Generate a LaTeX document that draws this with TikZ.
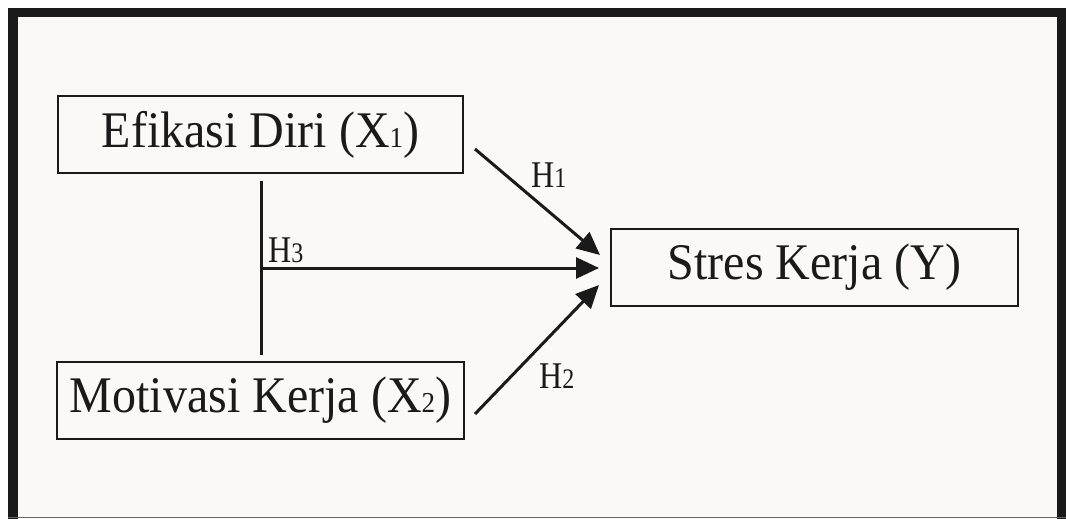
\documentclass[tikz,border=0pt]{standalone}
\usepackage{fontspec}
\usepackage{graphicx}
\setmainfont{Liberation Serif}
\usetikzlibrary{arrows.meta}
\definecolor{ink}{RGB}{26,26,26}
\definecolor{paper}{RGB}{250,249,247}
\newcommand{\lowdig}[1]{{\fontsize{27}{27}\selectfont #1}}
\newcommand{\hdig}[1]{{\fontsize{24}{24}\selectfont #1}}
\newcommand{\tallbox}[1]{\scalebox{1}[1.07]{#1}}
\newcommand{\tallh}[1]{\scalebox{1}[1.18]{#1}}
\tikzset{
  varbox/.style={draw=ink, line width=2pt, inner sep=0pt, text=ink,
    minimum height=77pt, font=\fontsize{48}{48}\selectfont},
  hlabel/.style={anchor=base west, inner sep=0pt, text=ink, font=\fontsize{32}{32}\selectfont},
  link/.style={draw=ink, line width=3pt},
  arrowlink/.style={link, -{Triangle[length=23pt,width=21pt]}}
}
\begin{document}
\begin{tikzpicture}[x=1pt,y=-1pt]
\useasboundingbox (0,0) rectangle (1066,519);
% frame
\fill[white] (0,0) rectangle (1066,519);
\fill[paper] (8,8) rectangle (1066,519);
\fill[ink] (8,8) rectangle (1066,17.5);
\fill[ink] (8,8) rectangle (17.5,519);
\fill[ink] (1057,8) rectangle (1066,519);
\draw[gray!80!black, line width=1.5pt] (8,517.5) -- (1066,517.5);
% boxes
\node[varbox, minimum width=405pt] (e) at (260.5,134.5) {\tallbox{Efikasi Diri (X\lowdig{1})}};
\node[varbox, minimum width=407pt] (m) at (260.5,400.5) {\tallbox{Motivasi Kerja (X\lowdig{2})}};
\node[varbox, minimum width=407pt] (s) at (814.5,267.5) {\tallbox{Stres Kerja (Y)}};
% connector points
\coordinate (vtop) at (261,181);
\coordinate (vbot) at (261,355);
\coordinate (vmid) at (261,268);
\coordinate (h1s) at (475,149);
\coordinate (h1e) at (600,255);
\coordinate (h3e) at (599,268);
\coordinate (h2s) at (475,414);
\coordinate (h2e) at (599,285);
\draw[link] (vtop) -- (vbot);
\draw[arrowlink] (vmid) -- (h3e);
\draw[arrowlink] (h1s) -- (h1e);
\draw[arrowlink] (h2s) -- (h2e);
% labels
\node[hlabel] (l1) at (531,187) {\tallh{H\hdig{1}}};
\node[hlabel] (l2) at (539,388) {\tallh{H\hdig{2}}};
\node[hlabel] (l3) at (268,262) {\tallh{H\hdig{3}}};
\end{tikzpicture}
\end{document}
